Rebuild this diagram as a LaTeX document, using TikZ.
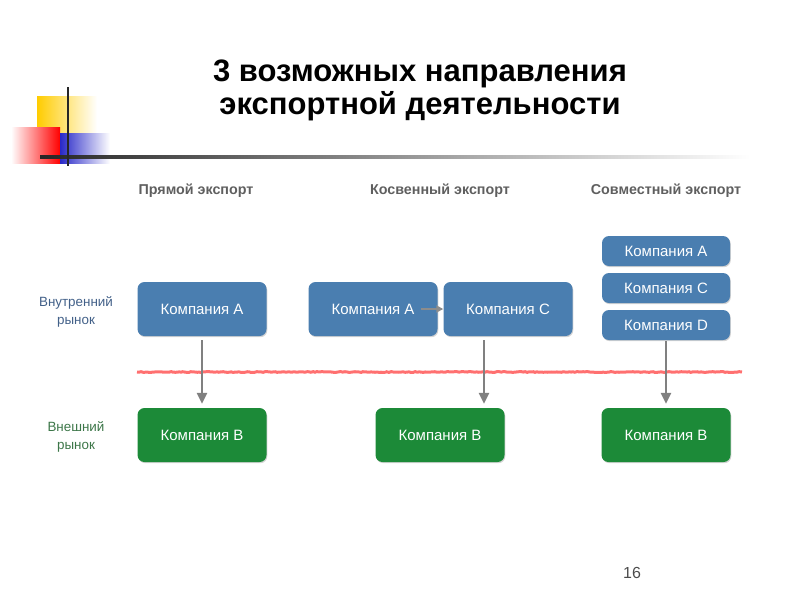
\documentclass[tikz,border=0pt]{standalone}
\usepackage{fontspec}
\setmainfont{Liberation Sans}
\usetikzlibrary{arrows.meta,shadows,decorations.pathmorphing}
\definecolor{boxblue}{RGB}{74,126,176}
\definecolor{boxgreen}{RGB}{28,138,56}
\definecolor{hdrgray}{RGB}{95,95,95}
\definecolor{lblblue}{RGB}{66,96,136}
\definecolor{lblgreen}{RGB}{60,118,72}
\tikzset{
  cbox/.style={rounded corners=7pt,text=white,minimum width=129pt,font=\fontsize{15}{17}\selectfont,
    drop shadow={shadow xshift=0.8pt,shadow yshift=-1.2pt,opacity=0.35}},
  inbox/.style={cbox,fill=boxblue,minimum height=54pt},
  jbox/.style={cbox,fill=boxblue,minimum height=30pt,minimum width=128pt},
  outbox/.style={cbox,fill=boxgreen,minimum height=54pt},
  hdr/.style={text=hdrgray,font=\bfseries\fontsize{14.3}{16}\selectfont},
  mkt/.style={align=center,font=\fontsize{13.4}{18}\selectfont},
  flow/.style={-{Triangle[length=11pt,width=10pt]},draw=black!50,line width=2.6pt}
}
\begin{document}
\begin{tikzpicture}[x=1pt,y=-1pt]
  \useasboundingbox (0,0) rectangle (800,600);
  % title and corner mark
  \node[font=\bfseries\fontsize{31}{33}\selectfont,align=center] (T) at (420,90) {3 возможных направления\\экспортной деятельности};
  \shade[left color={rgb,255:red,255;green,204;blue,0},right color=white] (37,96) rectangle (97,133);
  \shade[left color=white,right color=red] (11,127) rectangle (60,163);
  \shade[left color={rgb,255:red,40;green,40;blue,200},right color=white] (60,133) rectangle (110,163);
  \shade[left color=black!85,right color=white] (40,155.5) rectangle (750,158.5);
  \draw[line width=1.8pt,black!85] (68,87) -- (68,166);

  % column headers
  \node[hdr] (H1) at (196,191) {Прямой экспорт};
  \node[hdr] (H2) at (440,191) {Косвенный экспорт};
  \node[hdr] (H3) at (666,191) {Совместный экспорт};

  % row labels
  \node[mkt,text=lblblue] (R1) at (76,312) {Внутренний\\рынок};
  \node[mkt,text=lblgreen] (R2) at (76,437) {Внешний\\рынок};

  % border between markets
  \draw[red!70,line width=3pt,opacity=0.8,decorate,decoration={random steps,segment length=2pt,amplitude=0.4pt}] (137,372) -- (742,372);

  % direct export
  \node[inbox] (A1) at (202,309) {Компания A};
  \node[outbox] (B1) at (202,435) {Компания B};
  % indirect export
  \node[inbox] (A2) at (373,309) {Компания A};
  \node[inbox] (C2) at (508,309) {Компания C};
  \node[outbox] (B2) at (440,435) {Компания B};
  % joint export
  \node[jbox] (A3) at (666,251) {Компания A};
  \node[jbox] (C3) at (666,288) {Компания C};
  \node[jbox] (D3) at (666,325) {Компания D};
  \node[outbox] (B3) at (666,435) {Компания B};

  \draw[flow] ([yshift=-4pt]A1.south) -- ([yshift=4pt]B1.north);
  \draw[flow] ([xshift=-24pt,yshift=-4pt]C2.south) -- ([xshift=44pt,yshift=4pt]B2.north);
  \draw[flow] ([yshift=-1pt]D3.south) -- ([yshift=4pt]B3.north);
  \draw[-{Triangle[length=7pt,width=7pt]},draw=black!45,line width=1.8pt] ([xshift=-17pt]A2.east) -- (C2.west);

  \node[text=black!70,font=\fontsize{16}{18}\selectfont] (P) at (632,573) {16};
\end{tikzpicture}
\end{document}
